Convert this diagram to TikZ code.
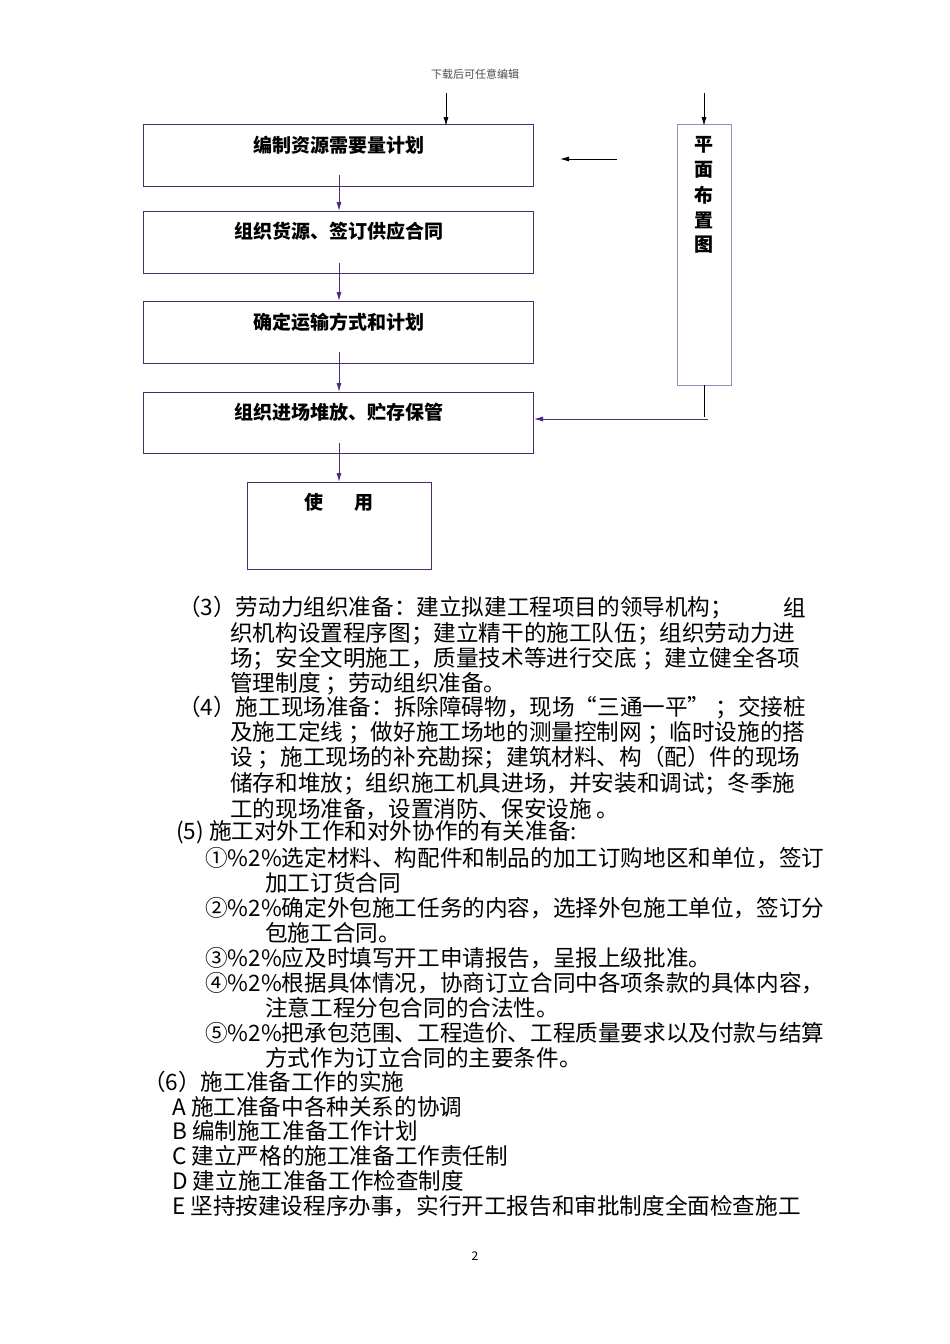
\documentclass[tikz,border=0pt]{standalone}
\usepackage{fontspec}
\usetikzlibrary{arrows.meta}
\setmainfont{Noto Sans CJK SC}
\begin{document}
\begin{tikzpicture}[x=1pt,y=-1pt,
  flow/.style={draw=boxc,line width=1pt},
  btxt/.style={font=\fontsize{19}{19}\selectfont\bfseries},
  body/.style={anchor=west,inner sep=0pt,font=\fontsize{22.6}{22.6}\selectfont},
  parr/.style={draw=arrc,line width=0.9pt,-{Latex[length=9pt,width=5pt]}},
  blarr/.style={draw=black,line width=0.9pt,-{Latex[length=9pt,width=5pt]}}]
\definecolor{boxc}{HTML}{4A2C6E}
\definecolor{arrc}{HTML}{4B2A80}
\definecolor{rboxc}{HTML}{9A8CB5}
\useasboundingbox[fill=white] (0,0) rectangle (950,1344);
\node[font=\fontsize{11}{11}\selectfont,text=black!70] (hdr) at (475,74) {下载后可任意编辑};
\draw[flow] (143,124) rectangle (533,186);
\draw[flow] (143,211) rectangle (533,273);
\draw[flow] (143,301) rectangle (533,363);
\draw[flow] (143,392) rectangle (533,453);
\draw[flow] (247,482) rectangle (431,569);
\draw[draw=rboxc,line width=1pt] (677,124) rectangle (731,385);
\node[btxt] (b1) at (339,145) {编制资源需要量计划};
\node[btxt] (b2) at (339,231) {组织货源、签订供应合同};
\node[btxt] (b3) at (339,322) {确定运输方式和计划};
\node[btxt] (b4) at (339,412) {组织进场堆放、贮存保管};
\node[btxt] (b5) at (339,502) {使\hspace{1.6em}用};
\foreach \c [count=\i] in {平,面,布,置,图}
  \node[btxt] (r\i) at (704,120+25*\i) {\c};
\coordinate (t1a) at (446,93); \coordinate (t1b) at (446,126);
\coordinate (t2a) at (704,93); \coordinate (t2b) at (704,126);
\draw[blarr] (t1a) -- (t1b);
\draw[blarr] (t2a) -- (t2b);
\coordinate (la) at (617,159); \coordinate (lb) at (560,159);
\draw[blarr] (la) -- (lb);
\foreach \a/\b in {175/211,263/301,352/392,443/482}{
  \coordinate (s\a) at (339,\a); \coordinate (e\a) at (339,\b);
  \draw[parr] (s\a) -- (e\a);}
\coordinate (rb) at (704,385); \coordinate (rc) at (704,417);
\draw[line width=0.8pt] (rb) -- (rc);
\coordinate (ha) at (708,419); \coordinate (hb) at (534,419);
\draw[parr] (ha) -- (hb);
% body text
\node[body] (l1) at (178,608) {（3）劳动力组织准备：建立拟建工程项目的领导机构；};
\node[body,anchor=east] (l1b) at (806,608) {组};
\foreach \t/\y in {织机构设置程序图；建立精干的施工队伍；组织劳动力进/634,
  场；安全文明施工，质量技术等进行交底 ；建立健全各项/659,
  管理制度 ；劳动组织准备。/684}
  \node[body] at (230,\y) {\t};
\node[body] (l5) at (178,708) {（4）施工现场准备：拆除障碍物，现场“三通一平” ；交接桩};
\foreach \t/\y in {及施工定线 ；做好施工场地的测量控制网 ；临时设施的搭/733,
  设 ；施工现场的补充勘探；建筑材料、构（配）件的现场/758,
  储存和堆放；组织施工机具进场，并安装和调试；冬季施/784,
  工的现场准备，设置消防、保安设施 。/809}
  \node[body] at (230,\y) {\t};
\node[body] (l10) at (176,832) {(5) 施工对外工作和对外协作的有关准备:};
\node[body] at (205,858) {①\%2\%选定材料、构配件和制品的加工订购地区和单位，签订};
\node[body] at (265,883) {加工订货合同};
\node[body] at (205,908) {②\%2\%确定外包施工任务的内容，选择外包施工单位，签订分};
\node[body] at (265,933) {包施工合同。};
\node[body] at (205,958) {③\%2\%应及时填写开工申请报告，呈报上级批准。};
\node[body] at (205,983) {④\%2\%根据具体情况，协商订立合同中各项条款的具体内容，};
\node[body] at (265,1008) {注意工程分包合同的合法性。};
\node[body] at (205,1033) {⑤\%2\%把承包范围、工程造价、工程质量要求以及付款与结算};
\node[body] at (265,1058) {方式作为订立合同的主要条件。};
\node[body] at (143,1082) {（6）施工准备工作的实施};
\node[body] at (172,1107) {A 施工准备中各种关系的协调};
\node[body] at (172,1131) {B 编制施工准备工作计划};
\node[body] at (172,1156) {C 建立严格的施工准备工作责任制};
\node[body] at (172,1181) {D 建立施工准备工作检查制度};
\node[body] at (172,1206) {E 坚持按建设程序办事，实行开工报告和审批制度全面检查施工};
\node[font=\fontsize{12}{12}\selectfont] (pg) at (475,1256) {2};
\end{tikzpicture}
\end{document}
